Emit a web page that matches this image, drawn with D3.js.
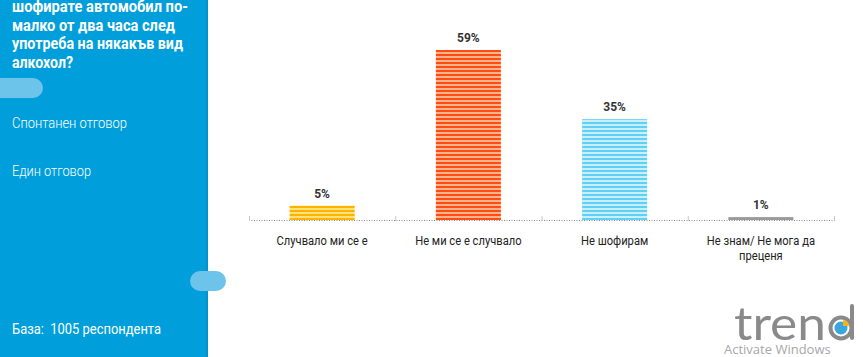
<!DOCTYPE html>
<html><head><meta charset="utf-8">
<script src="https://cdn.jsdelivr.net/npm/d3@7/dist/d3.min.js"></script>
<style>html,body{margin:0;padding:0;background:#fff;overflow:hidden} text{white-space:pre}</style>
</head><body>
<svg id="c" width="863" height="357"></svg>
<script>
const categories = ["Случвало ми се е", "Не ми се е случвало", "Не шофирам", "Не знам/ Не мога да преценя"];
const values = [5, 59, 35, 1];
const valueLabels = ["5%", "59%", "35%", "1%"];
const titleLines = ["шофирате автомобил по-", "малко от два часа след", "употреба на някакъв вид", "алкохол?"];
const notes = ["Спонтанен отговор", "Един отговор"];
const baseNote = "База:  1005 респондента";

const barDark = ["#ffb300", "#ff4d12", "#5fd0f6", "#9a9a9a"];
const barLight = ["#ffe27a", "#ffb48f", "#c9effd", "#9a9a9a"];

const svg = d3.select("#c");
const defs = svg.append("defs");
barDark.forEach((c, i) => {
  const p = defs.append("pattern").attr("id", "p" + i).attr("patternUnits", "userSpaceOnUse")
    .attr("width", 8).attr("height", 4).attr("y", 0);
  p.append("rect").attr("width", 8).attr("height", 4).attr("fill", barLight[i]);
  p.append("rect").attr("y", 2).attr("width", 8).attr("height", 2).attr("fill", c);
});

// left panel
svg.append("rect").attr("x", 0).attr("y", 0).attr("width", 207).attr("height", 357).attr("fill", "#009fdc");
svg.append("rect").attr("x", 206).attr("y", 0).attr("width", 2).attr("height", 357).attr("fill", "#0392c9");
svg.append("rect").attr("x", -12).attr("y", 78).attr("width", 55).attr("height", 20).attr("rx", 10).attr("fill", "#6cc4ea");
svg.append("rect").attr("x", 190).attr("y", 271).attr("width", 36).attr("height", 20).attr("rx", 10).attr("fill", "#6cc4ea");

const titleW = [176, 163, 171, 61];
svg.append("g").selectAll("text").data(titleLines).join("text")
  .attr("x", 12).attr("y", (d, i) => 12 + i * 18.5)
  .attr("textLength", (d, i) => titleW[i]).attr("lengthAdjust", "spacingAndGlyphs")
  .attr("fill", "#fff").attr("font-family", "Roboto").attr("font-weight", 700).attr("font-size", 16)
  .text(d => d);

const noteW = [115, 79];
svg.append("g").selectAll("text").data(notes).join("text")
  .attr("x", 12).attr("y", (d, i) => 128 + i * 48)
  .attr("textLength", (d, i) => noteW[i]).attr("lengthAdjust", "spacingAndGlyphs")
  .attr("fill", "#fff").attr("font-family", "Roboto").attr("font-weight", 300).attr("font-size", 14)
  .text(d => d);
svg.append("text").attr("x", 12).attr("y", 334).attr("textLength", 149).attr("lengthAdjust", "spacingAndGlyphs")
  .attr("fill", "#fff").attr("font-family", "Roboto").attr("font-size", 14).text(baseNote);

// chart
const x = d3.scaleBand().domain(categories).range([249, 834]).padding(0);
const y = d3.scaleLinear().domain([0, 59]).range([220, 50]);
const bw = x.bandwidth() * 0.445;

const g = svg.append("g");
g.selectAll("rect.bar").data(categories).join("rect").attr("class", "bar")
  .attr("x", d => x(d) + x.bandwidth() / 2 - bw / 2)
  .attr("y", (d, i) => y(values[i]))
  .attr("width", bw)
  .attr("height", (d, i) => y(0) - y(values[i]))
  .attr("fill", (d, i) => "url(#p" + i + ")");

// baseline
g.append("line").attr("x1", 249).attr("x2", 834).attr("y1", 220.5).attr("y2", 220.5)
  .attr("stroke", "#8a8a8a").attr("stroke-width", 1).attr("stroke-dasharray", "1,1.5");
const ticks = categories.map(d => x(d)).concat([x.range()[1]]);
g.selectAll("line.tk").data(ticks).join("line").attr("class", "tk")
  .attr("x1", d => d + 0.5).attr("x2", d => d + 0.5).attr("y1", 216).attr("y2", 221)
  .attr("stroke", "#c8c8c8");

g.selectAll("text.vl").data(categories).join("text").attr("class", "vl")
  .attr("x", d => x(d) + x.bandwidth() / 2)
  .attr("y", (d, i) => y(values[i]) - 8)
  .attr("text-anchor", "middle").attr("font-family", "Roboto").attr("font-weight", 700)
  .attr("font-size", 12).attr("fill", "#333").text((d, i) => valueLabels[i]);

// category labels (wrap, condensed)
const sx = 0.86, fs = 13;
const wrapW = 120 / sx;
categories.forEach(c => {
  const cx = x(c) + x.bandwidth() / 2;
  const t = g.append("text").attr("transform", `translate(${cx},245) scale(${sx},1)`)
    .attr("text-anchor", "middle").attr("font-family", "Roboto").attr("font-size", fs).attr("fill", "#222");
  const words = c.split(" ");
  let line = [], lines = [];
  const meas = svg.append("text").attr("font-family", "Roboto").attr("font-size", fs);
  words.forEach(w => {
    const test = line.concat([w]).join(" ");
    meas.text(test);
    if (meas.node().getComputedTextLength() > wrapW && line.length) { lines.push(line.join(" ")); line = [w]; }
    else line.push(w);
  });
  lines.push(line.join(" "));
  meas.remove();
  lines.forEach((l, i) => t.append("tspan").attr("x", 0).attr("y", i * 15).text(l));
});

// logo
const logo = svg.append("g");
logo.append("text").attr("x", 734).attr("y", 340).attr("font-family", "Lato").attr("font-weight", 400)
  .attr("font-size", 46).attr("fill", "#8a8a8a").attr("textLength", 92).attr("lengthAdjust", "spacingAndGlyphs").text("tren");
logo.append("circle").attr("cx", 841).attr("cy", 328).attr("r", 10.5).attr("fill", "none")
  .attr("stroke", "#8a8a8a").attr("stroke-width", 4);
logo.append("line").attr("x1", 852).attr("x2", 852).attr("y1", 306).attr("y2", 338)
  .attr("stroke", "#8a8a8a").attr("stroke-width", 4).attr("stroke-linecap", "round");
logo.append("circle").attr("cx", 841).attr("cy", 328).attr("r", 6.5).attr("fill", "#3aa6de");
logo.append("path").attr("d", d3.arc()({innerRadius: 0, outerRadius: 6, startAngle: 0, endAngle: Math.PI / 2}))
  .attr("transform", "translate(843,326)").attr("fill", "#f5b21b");
svg.append("text").attr("x", 724).attr("y", 354).attr("font-family", "Open Sans").attr("font-size", 13)
  .attr("fill", "#a8a8a8").text("Activate Windows");
</script>
</body></html>
